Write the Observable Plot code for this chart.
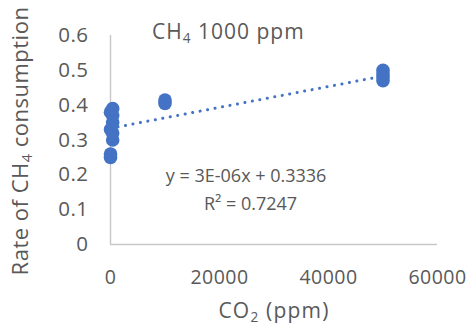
<!DOCTYPE html>
<html><head><meta charset="utf-8">
<script src="https://cdn.jsdelivr.net/npm/d3@7"></script>
<script src="https://cdn.jsdelivr.net/npm/@observablehq/plot@0.6"></script>
<style>body{margin:0;background:#fff}svg{font-family:"Open Sans",sans-serif}</style>
</head><body><div id="chart"></div>
<script>
const co2 = [0, 0, 400, 400, 0, 400, 400, 0, 400, 10000, 10000, 50000, 50000, 50000, 50000];
const rate = [0.25, 0.26, 0.30, 0.32, 0.33, 0.35, 0.37, 0.38, 0.39, 0.405, 0.415, 0.47, 0.48, 0.49, 0.50];
const xTicks = [0, 20000, 40000, 60000];
const yTicks = [0, 0.1, 0.2, 0.3, 0.4, 0.5, 0.6];
const slope = 3e-6, intercept = 0.3336;
const trendX = [0, 50000];
const eqText = "y = 3E-06x + 0.3336";
const r2Text = "R² = 0.7247";

const points = co2.map((x, i) => ({x, y: rate[i]}));
const trend = trendX.map(x => ({x, y: slope * x + intercept}));
const blue = "#4472C4", grey = "#595959";

const plot = Plot.plot({
  width: 470, height: 332,
  marginLeft: 110, marginRight: 33, marginTop: 35, marginBottom: 88,
  style: {fontFamily: "'Open Sans', sans-serif", color: grey, background: "#fff"},
  x: {domain: [0, 60000], label: null},
  y: {domain: [0, 0.6], label: null},
  marks: [
    Plot.axisX(xTicks, {tickSize: 0, tickPadding: 26, fontSize: 19.5, fill: grey, tickFormat: d => String(d), label: null}),
    Plot.axisY(yTicks, {tickSize: 0, tickPadding: 22, fontSize: 20.5, fill: grey, tickFormat: d => String(+d.toFixed(1)), label: null}),
    Plot.ruleX([0], {stroke: "#c8c8c8", strokeWidth: 1.5}),
    Plot.ruleY([0], {stroke: "#c8c8c8", strokeWidth: 1.5}),
    Plot.dot(points, {x: "x", y: "y", r: 6.8, fill: blue, stroke: "none"}),
    Plot.line(trend, {x: "x", y: "y", stroke: blue, strokeWidth: 3, strokeDasharray: "0.1,7.5", strokeLinecap: "round"}),
    Plot.text([eqText], {x: 10150, y: 0.197, text: d => d, fontSize: 18, fill: grey, textAnchor: "start"}),
    Plot.text([r2Text], {x: 17150, y: 0.116, text: d => d, fontSize: 18, fill: grey, textAnchor: "start"})
  ]
});
const svg = d3.select(plot);
svg.selectAll("g[aria-label$='tick label'] text").style("letter-spacing", "0.5px");

function addText(x, y, parts, size, rotate, anchor, ls) {
  const t = svg.append("text").attr("fill", grey).style("font-size", size + "px")
    .style("letter-spacing", ls + "px").attr("text-anchor", anchor || "middle");
  if (rotate) t.attr("transform", `translate(${x},${y}) rotate(-90)`);
  else t.attr("x", x).attr("y", y);
  let subbed = false;
  parts.forEach(([s, isSub]) => {
    const ts = t.append("tspan").text(s);
    if (isSub) { ts.attr("dy", "0.3em").style("font-size", (size * 0.65) + "px"); subbed = true; }
    else if (subbed) { ts.attr("dy", "-0.2em"); subbed = false; }
  });
  return t;
}
addText(152, 39, [["CH", false], ["4", true], [" 1000 ppm", false]], 21, false, "start", 1);
addText(274, 318, [["CO", false], ["2", true], [" (ppm)", false]], 21, false, "middle", 1.2);
addText(28, 141, [["Rate of CH", false], ["4", true], [" consumption", false]], 22, true, "middle", 0.5);
document.getElementById("chart").appendChild(plot);
</script>
</body></html>
